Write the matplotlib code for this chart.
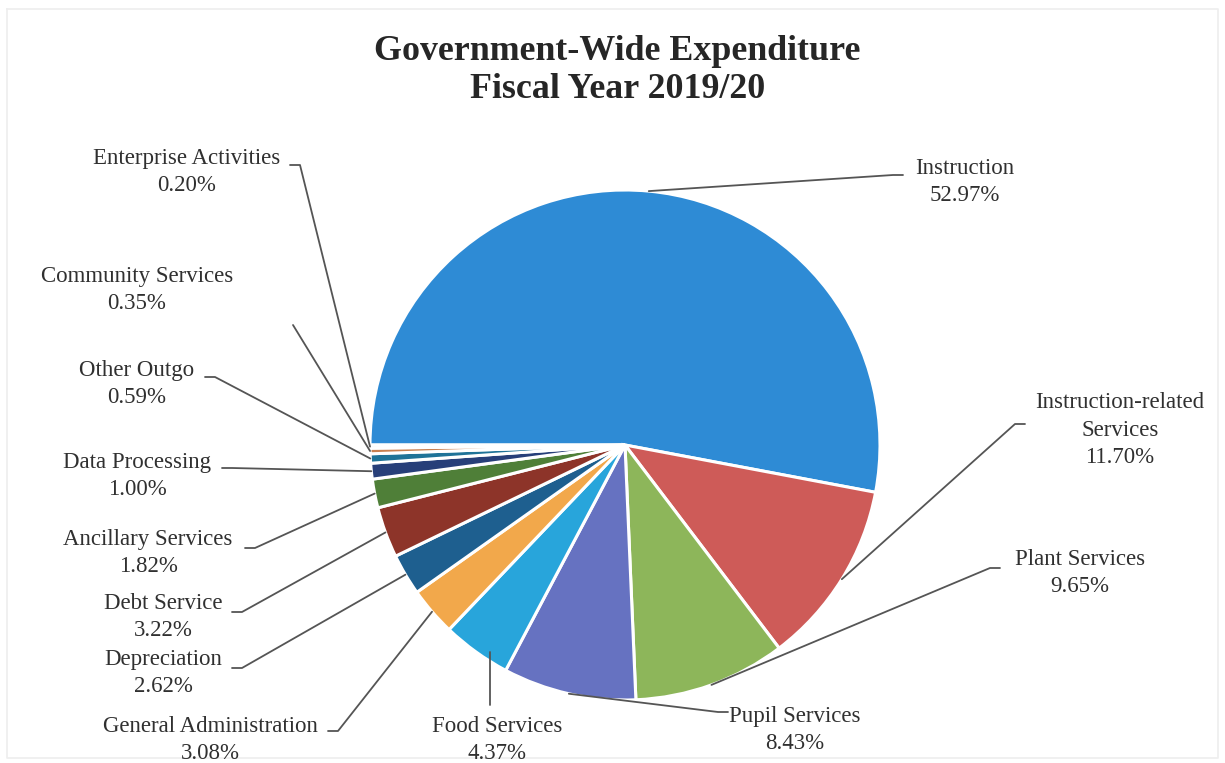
import numpy as np
import matplotlib.pyplot as plt

# expenditure by function, fiscal year 2019/20 (percent of total)
categories = ['Instruction', 'Instruction-related\nServices', 'Plant Services',
              'Pupil Services', 'Food Services', 'General Administration',
              'Depreciation', 'Debt Service', 'Ancillary Services',
              'Data Processing', 'Other Outgo', 'Community Services',
              'Enterprise Activities']
shares = [52.97, 11.70, 9.65, 8.43, 4.37, 3.08, 2.62, 3.22, 1.82, 1.00, 0.59, 0.35, 0.20]
colors = ['#2E8BD5', '#CE5B58', '#8DB65A', '#6672C1', '#28A5DB', '#F2A84B',
          '#1E5F8F', '#8D3429', '#4F7F38', '#273F79', '#1F7398', '#C98050',
          '#D6E2EE']

# label block centres and leader start points (pixels from top-left)
label_xy = [(965, 182), (1120, 430), (1080, 573), (795, 730), (497, 740),
            (210, 740), (163, 673), (163, 617), (148, 553), (137, 476),
            (137, 384), (137, 290), (187, 172)]
leader_start = [(903, 175), (1025, 424), (1000, 568), (728, 712), (490, 705),
                (328, 731), (232, 668), (232, 612), (245, 548), (222, 468),
                (205, 377), (293, 325), (290, 165)]
stub = [-10, -10, -10, -10, 0, 10, 10, 10, 10, 10, 10, 0, 10]

W, H = 1225, 763
fig = plt.figure(figsize=(W / 100, H / 100), dpi=100)
ax = fig.add_axes([0, 0, 1, 1])

cx, cy, r = 625, 445, 255
wedges, _ = ax.pie(shares, colors=colors, startangle=180, counterclock=False,
                   center=(cx, H - cy), radius=r,
                   wedgeprops=dict(edgecolor='white', linewidth=2.2))
ax.set_xlim(0, W)
ax.set_ylim(0, H)
ax.set_aspect('equal')
ax.axis('off')

font = ['Liberation Serif', 'DejaVu Serif']
for w, name, v, (tx, ty), (lx, ly), s in zip(wedges, categories, shares,
                                            label_xy, leader_start, stub):
    ax.text(tx, H - ty, f'{name}\n{v:.2f}%', ha='center', va='center',
            fontsize=16.5, family=font, color='#303030', linespacing=1.4)
    mid = np.deg2rad((w.theta1 + w.theta2) / 2)
    ex, ey = cx + r * np.cos(mid), (H - cy) + r * np.sin(mid)
    if name == 'Food Services':
        xs, ys = [lx, lx], [H - ly, ey]
    else:
        xs = [lx, lx + s, ex]
        ys = [H - ly, H - ly, ey]
    ax.plot(xs, ys, color='#555555', lw=1.3, solid_capstyle='round')

ax.text(W / 2 + 5, H - 71, 'Government-Wide Expenditure\nFiscal Year 2019/20',
        ha='center', va='center', fontsize=25.8, fontweight='bold',
        family=font, color='#262626', linespacing=1.2)

# faint page frame
ax.plot([7, W - 7, W - 7, 7, 7], [H - 9, H - 9, 5, 5, H - 9],
        color='#eeeeee', lw=1.2)

fig.savefig('out.png', dpi=100)
